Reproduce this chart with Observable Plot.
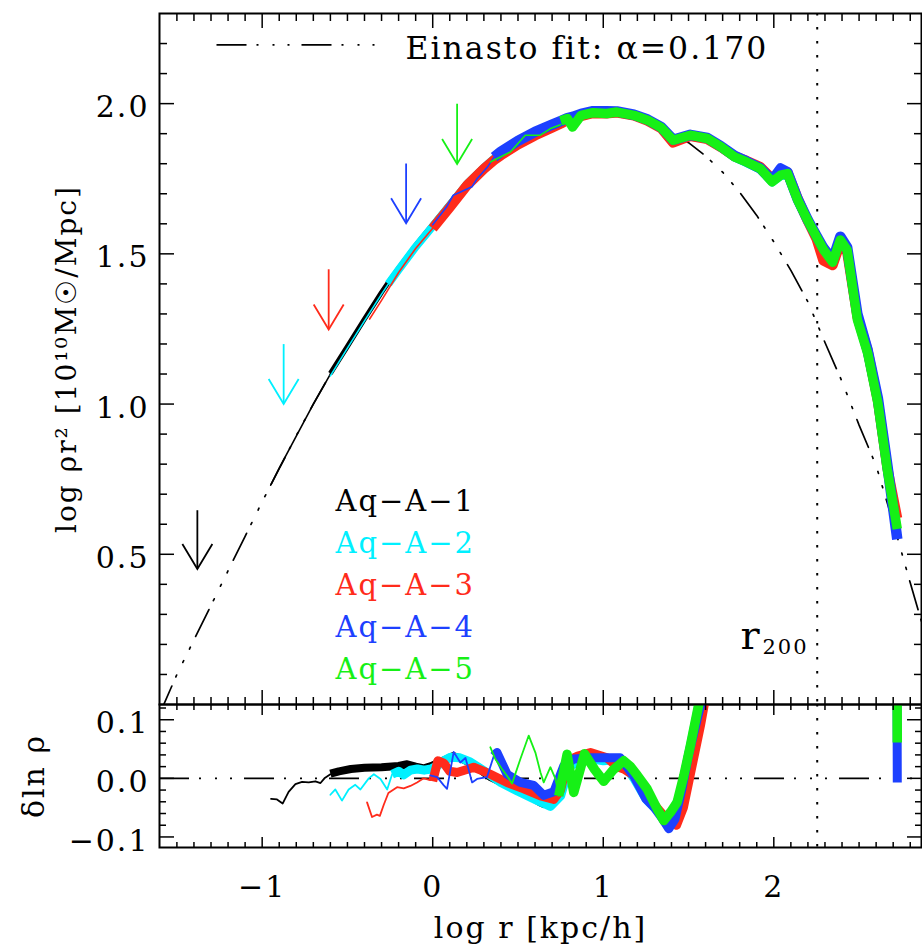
<!DOCTYPE html>
<html><head><meta charset="utf-8">
<script src="https://cdn.jsdelivr.net/npm/d3@7"></script>
<script src="https://cdn.jsdelivr.net/npm/@observablehq/plot@0.6"></script>
<style>
html,body{margin:0;padding:0;background:#fff;}
#chart svg{display:block;}
</style></head><body><div id="chart"></div>
<script>
// ---------------- data ----------------
const seriesNames = ["Aq−A−1","Aq−A−2","Aq−A−3","Aq−A−4","Aq−A−5"];
const seriesColors = ["#000000","#00f0ff","#ff2b1b","#1d40ff","#16f016"];

const einastoX = [-1.6,-1.5,-1.4,-1.3,-1.2,-1.1,-1.0,-0.9,-0.8,-0.7,-0.6,-0.5,-0.4,-0.3,-0.2,-0.1,0.0,0.1,0.2,0.3,0.4,0.5,0.6,0.7,0.8,0.9,1.0,1.1,1.2,1.3,1.4,1.5,1.6,1.7,1.8,1.9,2.0,2.1,2.2,2.3,2.4,2.5,2.6,2.7,2.8,2.9];
const einastoY = [-0.03,0.10,0.215,0.33,0.445,0.56,0.675,0.785,0.895,1.0,1.10,1.19,1.28,1.37,1.45,1.525,1.595,1.665,1.73,1.785,1.83,1.865,1.895,1.92,1.942,1.957,1.965,1.962,1.951,1.932,1.905,1.87,1.826,1.772,1.705,1.628,1.54,1.445,1.34,1.205,1.075,0.93,0.795,0.605,0.405,0.21];

// top panel, thin (inner, unconverged) parts
const blackTopThinX = [-0.95,-0.9,-0.8,-0.7,-0.6];
const blackTopThinY = [0.73,0.787,0.893,1.0,1.10];
const cyanTopThinX = [-0.6,-0.5,-0.4,-0.3,-0.26];
const cyanTopThinY = [1.094,1.186,1.277,1.366,1.40];
const redTopThinX = [-0.37,-0.3,-0.2,-0.1,0.0];
const redTopThinY = [1.283,1.345,1.438,1.518,1.585];
const blueTopThinX = [0.0,0.08,0.12,0.16,0.23,0.26,0.32,0.36];
const blueTopThinY = [1.597,1.655,1.695,1.705,1.723,1.75,1.788,1.822];
const greenTopThinX = [0.338,0.455,0.543,0.631,0.69,0.749];
const greenTopThinY = [1.806,1.839,1.895,1.895,1.917,1.93];

// top panel, thick parts on a shared radius grid (null = not drawn)
const topGridX = [-0.6,-0.5,-0.4,-0.3,-0.26,-0.2,-0.1,0.0,0.1,0.2,0.3,0.36,0.4,0.5,0.6,0.7,0.75,0.79,0.82,0.87,0.94,1.02,1.08,1.18,1.26,1.34,1.41,1.51,1.61,1.69,1.77,1.84,1.92,1.99,2.04,2.08,2.14,2.2,2.25,2.29,2.345,2.39,2.43,2.49,2.55,2.61,2.665,2.724];
const blackTopY = [1.102,1.192,1.283,1.372,1.405,1.452,1.528,1.598,1.668,1.738,1.792,1.822,1.838,1.872,1.902,1.927,
  null,null,null,null,null,null,null,null,null,null,null,null,null,null,null,null,null,null,null,null,null,null,null,null,null,null,null,null,null,null,null,null];
const cyanTopY = [null,null,null,null,1.400,1.447,1.523,1.592,1.662,1.732,1.787,1.817,1.832,1.867,1.897,1.922,1.935,1.945,1.948,1.957,1.967,1.965,1.968,1.958,1.942,1.917,1.874,1.89,1.88,1.852,1.82,1.802,1.78,1.737,1.758,1.762,1.675,1.606,1.553,1.51,1.468,1.54,1.508,1.278,1.166,1.0,0.78,0.57];
const redTopY = [null,null,null,null,null,null,null,1.585,1.655,1.727,1.783,1.812,1.828,1.864,1.894,1.92,1.933,1.945,1.95,1.958,1.968,1.967,1.97,1.96,1.943,1.918,1.87,1.892,1.882,1.855,1.825,1.81,1.79,1.75,1.775,1.772,1.685,1.608,1.55,1.478,1.462,1.535,1.505,1.29,1.18,1.01,0.79,0.62];
const blueTopY = [null,null,null,null,null,null,null,null,null,null,null,1.822,1.84,1.876,1.906,1.93,1.942,1.952,1.956,1.966,1.975,1.975,1.974,1.963,1.947,1.922,1.88,1.896,1.886,1.858,1.826,1.808,1.785,1.745,1.784,1.772,1.682,1.612,1.56,1.52,1.48,1.557,1.522,1.30,1.18,1.02,0.80,0.55];
const greenTopY = [null,null,null,null,null,null,null,null,null,null,null,null,null,null,null,null,1.943,1.95,1.922,1.961,1.97,1.967,1.972,1.961,1.945,1.92,1.878,1.895,1.884,1.856,1.823,1.806,1.784,1.740,1.762,1.767,1.679,1.61,1.557,1.515,1.472,1.546,1.513,1.281,1.17,1.004,0.783,0.584];

// bottom panel residuals
const blackBotThinX = [-0.948,-0.913,-0.88,-0.845,-0.805,-0.766,-0.727,-0.688,-0.658,-0.635,-0.6];
const blackBotThinY = [-0.035,-0.036,-0.043,-0.023,-0.010,-0.006,-0.007,-0.005,-0.008,0.0,0.007];
const blackBotX = [-0.6,-0.55,-0.48,-0.4,-0.3,-0.2,-0.15,-0.1,-0.05,0.0,0.06,0.12,0.18,0.24,0.3,0.34,0.44,0.53,0.63,0.66];
const blackBotY = [0.008,0.012,0.016,0.018,0.019,0.021,0.024,0.02,0.017,0.022,0.03,0.038,0.032,0.024,0.01,0.002,-0.012,-0.024,-0.041,-0.045];
const cyanBotThinX = [-0.6,-0.571,-0.532,-0.493,-0.454,-0.424,-0.375,-0.345,-0.306,-0.267,-0.238];
const cyanBotThinY = [-0.028,-0.019,-0.038,-0.019,-0.011,-0.019,0.0,0.007,-0.001,-0.019,0.007];
const cyanBotX = [-0.238,-0.2,-0.17,-0.13,-0.09,-0.05,-0.01,0.03,0.065,0.104,0.16,0.22,0.3,0.4,0.5,0.6,0.69,0.75,0.8,0.9,1.0,1.1,1.18,1.25,1.3,1.35,1.4,1.45,1.5,1.55,1.6];
const cyanBotY = [0.007,0.012,0.006,0.014,0.016,0.014,0.016,0.022,0.03,0.036,0.035,0.028,0.013,-0.007,-0.022,-0.036,-0.048,-0.03,0.02,0.035,0.03,0.032,0.0,-0.035,-0.05,-0.065,-0.06,-0.03,0.04,0.11,0.19];
const redBotThinX = [-0.385,-0.356,-0.327,-0.31,-0.287,-0.26,-0.209,-0.17,-0.131,-0.092,-0.053,-0.014];
const redBotThinY = [-0.041,-0.066,-0.062,-0.064,-0.045,-0.025,-0.015,-0.017,-0.013,-0.007,0.0,-0.003];
const redBotX = [0.0,0.03,0.065,0.1,0.143,0.2,0.24,0.3,0.338,0.436,0.534,0.632,0.71,0.75,0.79,0.85,0.925,1.022,1.08,1.12,1.18,1.25,1.3,1.35,1.4,1.43,1.47,1.52,1.57,1.62];
const redBotY = [-0.005,0.03,0.026,0.012,0.01,0.015,0.019,0.012,0.007,-0.007,-0.018,-0.03,-0.036,-0.02,0.03,0.038,0.044,0.035,0.02,0.016,0.005,-0.03,-0.045,-0.062,-0.075,-0.08,-0.05,0.02,0.09,0.17];
const blueBotThinX = [-0.014,0.026,0.065,0.084,0.123,0.162,0.192,0.231,0.26,0.318,0.358];
const blueBotThinY = [0.005,0.002,-0.012,-0.018,0.045,0.027,0.035,-0.007,-0.001,0.002,0.038];
const blueBotX = [0.358,0.377,0.436,0.514,0.592,0.651,0.71,0.768,0.827,0.925,1.022,1.1,1.179,1.25,1.3,1.35,1.384,1.42,1.46,1.5,1.55,1.6,2.0,2.72,2.724];
const blueBotY = [0.038,0.044,0.007,-0.007,-0.012,-0.029,-0.023,0.021,0.033,0.035,0.035,0.035,0.004,-0.035,-0.05,-0.07,-0.086,-0.07,-0.02,0.04,0.1,0.16,0.6,0.4,-0.007];
const greenBotThinX = [0.338,0.367,0.406,0.446,0.465,0.514,0.563,0.602,0.632,0.651,0.69,0.72,0.739];
const greenBotThinY = [0.053,0.033,0.016,0.0,-0.009,0.033,0.073,0.044,0.01,-0.007,0.019,-0.001,-0.03];
const greenBotX = [0.739,0.788,0.827,0.89,0.95,1.003,1.06,1.12,1.16,1.2,1.257,1.316,1.355,1.394,1.433,1.472,1.511,1.55,1.57,2.0,2.72,2.724];
const greenBotY = [-0.03,0.041,-0.024,0.042,0.015,-0.005,0.015,0.03,0.02,0.005,-0.018,-0.052,-0.072,-0.058,-0.041,0.004,0.056,0.112,0.14,0.6,0.4,0.061];

// convergence-radius arrows
const arrowX = [-1.38,-0.874,-0.61,-0.156,0.143];
const arrowTipY = [0.451,1.0,1.248,1.602,1.799];
const arrowTopY = [0.645,1.198,1.447,1.799,1.998];

const r200X = 2.2545;
const xTickLabels = [-1,0,1,2];
const topYTickLabels = [0.5,1.0,1.5,2.0];
const botYTickLabels = [-0.1,0.0,0.1];
const botYMinor = [-0.08,-0.06,-0.04,-0.02,0.02,0.04,0.06,0.08,0.12];
const einastoLabel = "Einasto fit: α=0.170";

// ---------------- helpers ----------------
const rows = (xs, ys) => xs.map((x, i) => ({x, y: ys[i]}));
const isMult = (v, s) => Math.abs(v / s - Math.round(v / s)) < 1e-6;
const xMinor = d3.range(-1.5, 2.85, 0.1).map(v => +v.toFixed(2)).filter(v => !isMult(v, 1));
const topYMinor = d3.range(0.1, 2.25, 0.1).map(v => +v.toFixed(2)).filter(v => !isMult(v, 0.5));

const xDomain = [-1.602, 2.866];
const DASH4 = "30,10,2,14,2,13,2,12";
const FONT = "'DejaVu Serif', serif";

function ticksY(values, size) {
  return [
    Plot.axisY(values, {anchor: "left", tickSize: size, dx: size, fill: "none", label: null, strokeWidth: 1.5}),
    Plot.axisY(values, {anchor: "right", tickSize: size, dx: -size, fill: "none", label: null, strokeWidth: 1.5})
  ];
}
function ticksX(values, size) {
  return [
    Plot.axisX(values, {anchor: "top", tickSize: size, dy: size, fill: "none", label: null, strokeWidth: 1.5}),
    Plot.axisX(values, {anchor: "bottom", tickSize: size, dy: -size, fill: "none", label: null, strokeWidth: 1.5})
  ];
}
const arrowHead = {draw(ctx) { ctx.moveTo(-15, -25); ctx.lineTo(0, 0); ctx.lineTo(15, -25); }};
const legendLine = {draw(ctx) { ctx.moveTo(0, 0); ctx.lineTo(162, 0); }};

const topThin = [[blackTopThinX, blackTopThinY],[cyanTopThinX, cyanTopThinY],[redTopThinX, redTopThinY],[blueTopThinX, blueTopThinY],[greenTopThinX, greenTopThinY]];
const topThick = [blackTopY, cyanTopY, redTopY, blueTopY, greenTopY];
const topWidths = [5, 8, 10, 10.5, 9.5];
const botThin = [[blackBotThinX, blackBotThinY],[cyanBotThinX, cyanBotThinY],[redBotThinX, redBotThinY],[blueBotThinX, blueBotThinY],[greenBotThinX, greenBotThinY]];
const botThick = [[blackBotX, blackBotY],[cyanBotX, cyanBotY],[redBotX, redBotY],[blueBotX, blueBotY],[greenBotX, greenBotY]];
const botWidths = [8, 9, 9, 9, 9.5];

const seriesTopMarks = seriesColors.flatMap((c, i) => [
  Plot.line(rows(topThin[i][0], topThin[i][1]), {x: "x", y: "y", stroke: c, strokeWidth: 1.6, clip: true}),
  Plot.line(rows(topGridX, topThick[i]), {x: "x", y: "y", stroke: c, strokeWidth: topWidths[i], strokeLinecap: "butt", clip: true})
]);
const seriesBotMarks = seriesColors.flatMap((c, i) => [
  Plot.line(rows(botThin[i][0], botThin[i][1]), {x: "x", y: "y", stroke: c, strokeWidth: 1.8, clip: true}),
  Plot.line(rows(botThick[i][0], botThick[i][1]), {x: "x", y: "y", stroke: c, strokeWidth: botWidths[i], strokeLinecap: "butt", clip: true})
]);
const arrows = arrowX.map((x, i) => ({x, tip: arrowTipY[i], top: arrowTopY[i], c: seriesColors[i]}));

const style = {fontFamily: FONT, fontSize: "30px", background: "#fff", color: "#000", overflow: "visible", letterSpacing: "2px"};

const topPlot = Plot.plot({
  width: 922, height: 704, marginTop: 13, marginBottom: 0, marginLeft: 159, marginRight: 1,
  x: {domain: xDomain, label: null},
  y: {domain: [0, 2.3], label: null},
  color: {type: "identity"},
  style,
  marks: [
    Plot.line(rows(einastoX, einastoY), {x: "x", y: "y", stroke: "#000", strokeWidth: 1.7, strokeDasharray: DASH4, clip: true}),
    Plot.ruleX([r200X], {stroke: "#000", strokeWidth: 2, strokeDasharray: "2.5,11.5"}),
    ...seriesTopMarks,
    Plot.ruleX(arrows, {x: "x", y1: "tip", y2: "top", stroke: "c", strokeWidth: 1.8}),
    Plot.dot(arrows, {x: "x", y: "tip", symbol: arrowHead, stroke: "c", fill: "none", strokeWidth: 1.8}),
    ...seriesNames.map((name, i) => Plot.text([name], {frameAnchor: "top-left", dx: 176, dy: 497 + i * 42, textAnchor: "start", lineAnchor: "bottom", fill: seriesColors[i], fontSize: 29})),
    Plot.dot([0], {frameAnchor: "top-left", dx: 57, dy: 31.3, symbol: legendLine, stroke: "#000", fill: "none", strokeWidth: 1.7, strokeDasharray: DASH4}),
    Plot.text([einastoLabel], {frameAnchor: "top-left", dx: 246, dy: 45.3, textAnchor: "start", lineAnchor: "bottom", fontSize: 31.5}),
    Plot.text(["r"], {frameAnchor: "top-left", dx: 581, dy: 635, textAnchor: "start", lineAnchor: "bottom", fontSize: 40}),
    Plot.text(["200"], {frameAnchor: "top-left", dx: 603, dy: 640, textAnchor: "start", lineAnchor: "bottom", fontSize: 21}),
    Plot.frame({stroke: "#000", strokeWidth: 2}),
    ...ticksY(topYTickLabels, 15), ...ticksY(topYMinor, 8),
    ...ticksX(xTickLabels, 14), ...ticksX(xMinor, 7),
    Plot.axisY(topYTickLabels, {anchor: "left", tickSize: 0, tickPadding: 10, dy: 4, tickFormat: d3.format(".1f"), label: null}),
    Plot.text(["log ρr² [10¹⁰M☉/Mpc]"], {frameAnchor: "left", rotate: -90, dx: -84, textAnchor: "middle", lineAnchor: "bottom", fontSize: 28})
  ]
});

const bottomPlot = Plot.plot({
  width: 922, height: 244, marginTop: 0, marginBottom: 101, marginLeft: 159, marginRight: 1,
  x: {domain: xDomain, label: null},
  y: {domain: [-0.118, 0.126], label: null},
  color: {type: "identity"},
  style,
  marks: [
    Plot.ruleY([0], {stroke: "#000", strokeWidth: 1.7, strokeDasharray: DASH4}),
    Plot.ruleX([r200X], {stroke: "#000", strokeWidth: 2, strokeDasharray: "2.5,11.5"}),
    ...seriesBotMarks,
    Plot.frame({stroke: "#000", strokeWidth: 2}),
    ...ticksY(botYTickLabels, 15), ...ticksY(botYMinor, 7),
    ...ticksX(xTickLabels, 10), ...ticksX(xMinor, 5),
    Plot.axisY(botYTickLabels, {anchor: "left", tickSize: 0, tickPadding: 10, dy: 4, tickFormat: d3.format(".1f"), label: null}),
    Plot.axisX(xTickLabels, {anchor: "bottom", tickSize: 0, tickPadding: 28, tickFormat: d3.format("d"), label: null}),
    Plot.text(["δln ρ"], {frameAnchor: "left", rotate: -90, dx: -116, textAnchor: "middle", lineAnchor: "bottom", fontSize: 30}),
    Plot.text(["log r [kpc/h]"], {frameAnchor: "bottom", dy: 90, textAnchor: "middle", lineAnchor: "bottom", fontSize: 30})
  ]
});

const chart = document.getElementById("chart");
chart.append(topPlot, bottomPlot);
</script></body></html>
